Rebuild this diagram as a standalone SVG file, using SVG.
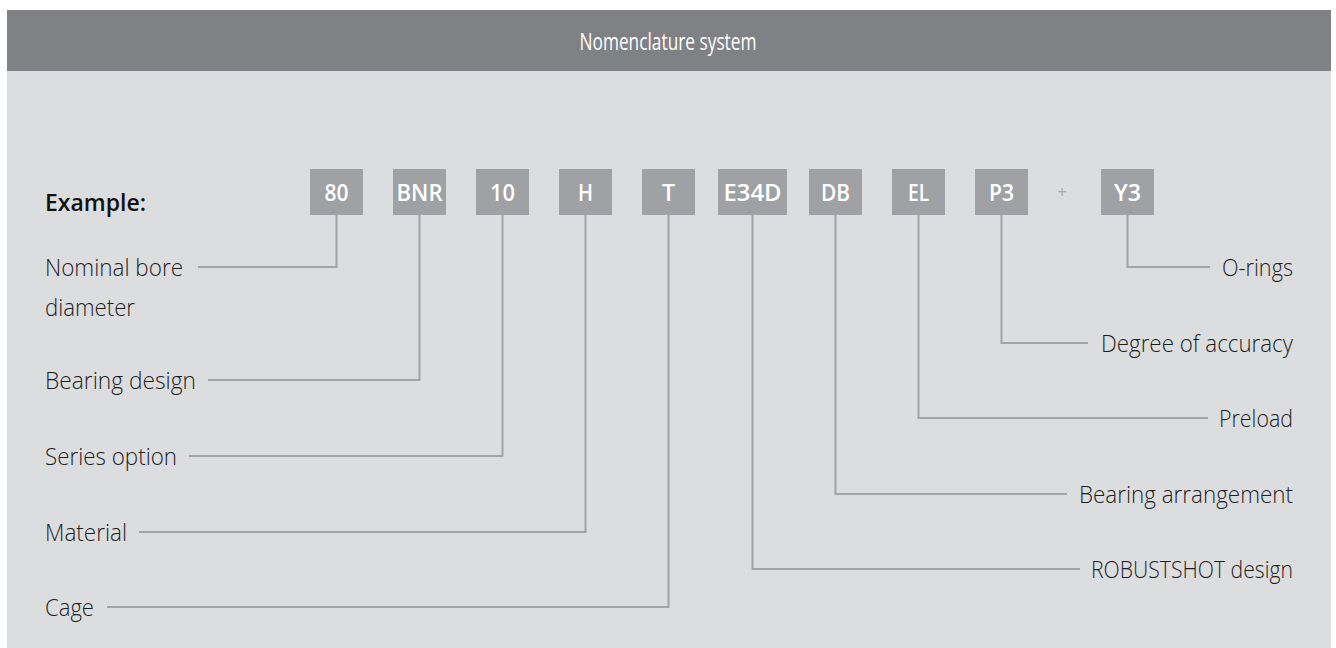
<svg xmlns="http://www.w3.org/2000/svg" width="1336" height="648" viewBox="0 0 1336 648">
<style>
.lbl{font-family:"Open Sans","Noto Sans","Liberation Sans",sans-serif;font-size:24px;font-weight:300;fill:#1e1e1e}
.box{fill:#a0a1a4}
.bt{font-family:"Open Sans","Noto Sans","Liberation Sans",sans-serif;font-size:24px;font-weight:600;fill:#ffffff;text-anchor:middle}
.con{fill:none;stroke:#a3a4a7;stroke-width:2}
</style>
<rect x="7" y="10" width="1324" height="61" fill="#808185"/>
<rect x="7" y="71" width="1324" height="577" fill="#dcdddf"/>
<text x="668" y="50" text-anchor="middle" font-family="'Open Sans','Noto Sans',sans-serif" font-size="24" fill="#ffffff" textLength="177" lengthAdjust="spacingAndGlyphs">Nomenclature system</text>
<text x="45" y="211" font-family="'Open Sans','Noto Sans',sans-serif" font-size="23" font-weight="600" fill="#111111" textLength="101" lengthAdjust="spacingAndGlyphs">Example:</text>
<text x="1062" y="198" text-anchor="middle" font-family="'Open Sans',sans-serif" font-size="17" fill="#a8a9ac">+</text>
<g id="connectors">
<path class="con" d="M198 267H336.5V215"/>
<path class="con" d="M208 380H419.5V215"/>
<path class="con" d="M189 456H502.5V215"/>
<path class="con" d="M139 532H585.5V215"/>
<path class="con" d="M107 607H668.5V215"/>
<path class="con" d="M1080 569H752.5V215"/>
<path class="con" d="M1067 494H835.5V215"/>
<path class="con" d="M1208 418H918.5V215"/>
<path class="con" d="M1088 343H1001.5V215"/>
<path class="con" d="M1210 267H1127.5V215"/>
</g>
<g id="n80"><rect class="box" x="310" y="169" width="53" height="46"/><text class="bt" x="336.5" y="201" textLength="24" lengthAdjust="spacingAndGlyphs">80</text></g>
<g id="nBNR"><rect class="box" x="393" y="169" width="53" height="46"/><text class="bt" x="419.5" y="201" textLength="46" lengthAdjust="spacingAndGlyphs">BNR</text></g>
<g id="n10"><rect class="box" x="476" y="169" width="53" height="46"/><text class="bt" x="502.5" y="201" textLength="25" lengthAdjust="spacingAndGlyphs">10</text></g>
<g id="nH"><rect class="box" x="559" y="169" width="53" height="46"/><text class="bt" x="585.5" y="201" textLength="15" lengthAdjust="spacingAndGlyphs">H</text></g>
<g id="nT"><rect class="box" x="642" y="169" width="53" height="46"/><text class="bt" x="668.5" y="201" textLength="13" lengthAdjust="spacingAndGlyphs">T</text></g>
<g id="nE34D"><rect class="box" x="718" y="169" width="69" height="46"/><text class="bt" x="752.5" y="201" textLength="58" lengthAdjust="spacingAndGlyphs">E34D</text></g>
<g id="nDB"><rect class="box" x="809" y="169" width="53" height="46"/><text class="bt" x="835.5" y="201" textLength="29" lengthAdjust="spacingAndGlyphs">DB</text></g>
<g id="nEL"><rect class="box" x="892" y="169" width="53" height="46"/><text class="bt" x="918.5" y="201" textLength="21" lengthAdjust="spacingAndGlyphs">EL</text></g>
<g id="nP3"><rect class="box" x="975" y="169" width="53" height="46"/><text class="bt" x="1001.5" y="201" textLength="25" lengthAdjust="spacingAndGlyphs">P3</text></g>
<g id="nY3"><rect class="box" x="1101" y="169" width="53" height="46"/><text class="bt" x="1127.5" y="201" textLength="27" lengthAdjust="spacingAndGlyphs">Y3</text></g>
<g id="l-bore"><text class="lbl" x="45" y="276" textLength="138" lengthAdjust="spacingAndGlyphs">Nominal bore</text><text class="lbl" x="45" y="316" textLength="90" lengthAdjust="spacingAndGlyphs">diameter</text></g>
<g id="l-design"><text class="lbl" x="45" y="389" textLength="151" lengthAdjust="spacingAndGlyphs">Bearing design</text></g>
<g id="l-series"><text class="lbl" x="45" y="465" textLength="132" lengthAdjust="spacingAndGlyphs">Series option</text></g>
<g id="l-material"><text class="lbl" x="45" y="541" textLength="82" lengthAdjust="spacingAndGlyphs">Material</text></g>
<g id="l-cage"><text class="lbl" x="45" y="616" textLength="49" lengthAdjust="spacingAndGlyphs">Cage</text></g>
<g id="l-orings"><text class="lbl" x="1222" y="276" textLength="71" lengthAdjust="spacingAndGlyphs">O-rings</text></g>
<g id="l-accuracy"><text class="lbl" x="1101" y="352" textLength="192" lengthAdjust="spacingAndGlyphs">Degree of accuracy</text></g>
<g id="l-preload"><text class="lbl" x="1219" y="427" textLength="74" lengthAdjust="spacingAndGlyphs">Preload</text></g>
<g id="l-arrangement"><text class="lbl" x="1079" y="503" textLength="214" lengthAdjust="spacingAndGlyphs">Bearing arrangement</text></g>
<g id="l-robustshot"><text class="lbl" x="1091" y="578" textLength="202" lengthAdjust="spacingAndGlyphs">ROBUSTSHOT design</text></g>
</svg>
